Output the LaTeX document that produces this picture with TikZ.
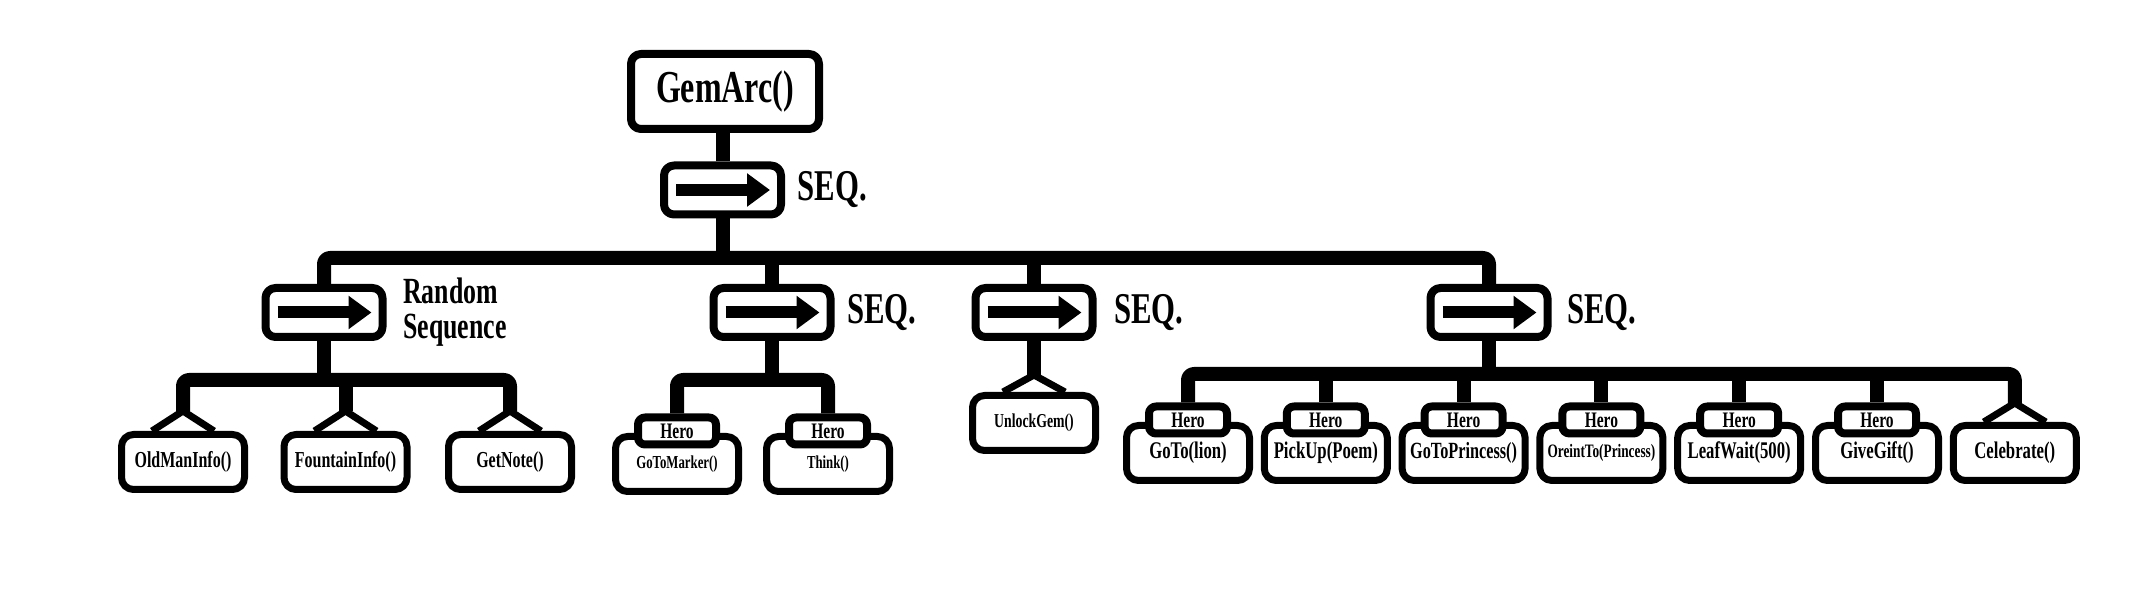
\documentclass[tikz,border=0pt]{standalone}
\usepackage{fontspec}
\newfontfamily\gemfont[FakeStretch=0.7]{Liberation Serif}
\usepackage{tikz}
\usetikzlibrary{arrows.meta}

\begin{document}
\begin{tikzpicture}[line join=round]
	\tikzstyle{root_style}=[rectangle, draw, line width=0.08cm, rounded corners=0.1cm, minimum width=1.88cm, minimum height=0.75cm, font=\gemfont\bfseries\fontsize{13}{14}\selectfont]
	\tikzstyle{seq_style}=[rectangle, draw, line width=0.08cm, rounded corners=0.1cm, minimum width=1.17cm, minimum height=0.49cm, inner sep=0pt,
		path picture={\draw[line width=0.12cm, sharp corners, -{Triangle[length=0.23cm, width=0.32cm]}] ([xshift=-0.465cm]path picture bounding box.center) -- ([xshift=0.475cm]path picture bounding box.center);}]
	\tikzstyle{leaf_style}=[rectangle, draw, fill=white, line width=0.07cm, rounded corners=0.12cm, minimum width=1.23cm, minimum height=0.55cm, inner sep=0pt]
	\tikzstyle{hero_style}=[rectangle, draw, fill=white, line width=0.08cm, rounded corners=0.07cm, minimum width=0.78cm, minimum height=0.27cm, inner sep=0pt, font=\gemfont\bfseries\fontsize{6.3}{7}\selectfont]
	\tikzstyle{label_style}=[right, inner sep=0.12cm, font=\gemfont\bfseries\fontsize{12.5}{13}\selectfont]
	\tikzstyle{link_style}=[line width=0.14cm, rounded corners=0.06cm]
	\tikzstyle{cond_style}=[line width=0.07cm]

	\useasboundingbox (0,0) rectangle (21.49,-5.92);

	% root
	\node at (7.25, -0.915) [root_style] (gemarc) {GemArc()};
	\node at (7.225, -1.90) [seq_style] (seq_root) {};
	\node at (seq_root.east) [label_style] {SEQ.};

	% sequences
	\node at (3.24, -3.125) [seq_style] (seq_rand) {};
	\node at (seq_rand.east) [label_style, align=left, inner sep=0.16cm, font=\gemfont\bfseries\fontsize{10.5}{10}\selectfont] {Random\\Sequence};
	\node at (7.72, -3.125) [seq_style] (seq_two) {};
	\node at (seq_two.east) [label_style] {SEQ.};
	\node at (10.34, -3.125) [seq_style] (seq_three) {};
	\node at (seq_three.east) [label_style, inner sep=0.17cm] {SEQ.};
	\node at (14.89, -3.125) [seq_style] (seq_four) {};
	\node at (seq_four.east) [label_style, inner sep=0.15cm] {SEQ.};

	% random sequence leaves
	\foreach \i/\x/\txt in {1/1.83/OldManInfo(), 2/3.455/FountainInfo(), 3/5.10/GetNote()} {
		\node at (\x, -4.62) [leaf_style, font=\gemfont\bfseries\fontsize{6.5}{8}\selectfont] (leaf_r_\i) {\txt};
		\coordinate (top_r_\i) at ([yshift=0.2cm]leaf_r_\i.north);
		\draw[cond_style] ([xshift=-0.31cm]leaf_r_\i.north) -- (top_r_\i) -- ([xshift=0.31cm]leaf_r_\i.north);
	}

	% second sequence leaves
	\foreach \i/\x/\txt in {1/6.77/GoToMarker(), 2/8.28/Think()} {
		\node at (\x, -4.64) [leaf_style, font=\gemfont\bfseries\fontsize{5.2}{7}\selectfont] (leaf_t_\i) {\txt};
		\node at (\x, -4.31) [hero_style] (hero_t_\i) {Hero};
	}

	% unlock leaf
	\node at (10.34, -4.23) [leaf_style, font=\gemfont\bfseries\fontsize{5.6}{7}\selectfont] (leaf_u) {UnlockGem()};
	\coordinate (top_u) at ([yshift=0.17cm]leaf_u.north);
	\draw[cond_style] ([xshift=-0.31cm]leaf_u.north) -- (top_u) -- ([xshift=0.31cm]leaf_u.north);

	% fourth sequence leaves
	\foreach \i/\s/\txt in {1/6.8/GoTo(lion), 2/6.8/PickUp(Poem), 3/6.6/GoToPrincess(), 4/5.4/OreintTo(Princess), 5/6.8/LeafWait(500), 6/6.8/GiveGift()} {
		\node at ({11.88+1.378*(\i-1)}, -4.53) [leaf_style, font=\gemfont\bfseries\fontsize{\s}{8}\selectfont] (leaf_f_\i) {\txt};
		\node at ({11.88+1.378*(\i-1)}, -4.20) [hero_style] (hero_f_\i) {Hero};
	}
	\node at (20.148, -4.53) [leaf_style, font=\gemfont\bfseries\fontsize{6.8}{8}\selectfont] (leaf_f_7) {Celebrate()};
	\coordinate (top_f_7) at ([yshift=0.19cm]leaf_f_7.north);
	\draw[cond_style] ([xshift=-0.31cm]leaf_f_7.north) -- (top_f_7) -- ([xshift=0.31cm]leaf_f_7.north);

	% connect: root
	\coordinate (bar_main) at (0, -2.58);
	\draw[link_style] (seq_root.north) -- (seq_root.north |- gemarc.south);
	\draw[link_style] (seq_root.south) -- (seq_root.south |- bar_main);
	\draw[link_style] (seq_rand.north) -- (seq_rand.north |- bar_main) -- (seq_four.north |- bar_main) -- (seq_four.north);
	\foreach \n in {two, three}
		\draw[link_style] (seq_\n.north |- bar_main) -- (seq_\n.north);

	% connect: random sequence
	\coordinate (bar_r) at (0, -3.80);
	\draw[link_style] (seq_rand.south) -- (seq_rand.south |- bar_r);
	\draw[link_style] (top_r_1) -- (top_r_1 |- bar_r) -- (top_r_3 |- bar_r) -- (top_r_3);
	\draw[link_style] (top_r_2 |- bar_r) -- (top_r_2);

	% connect: second sequence
	\coordinate (bar_t) at (0, -3.80);
	\draw[link_style] (seq_two.south) -- (seq_two.south |- bar_t);
	\draw[link_style] (hero_t_1.north) -- (hero_t_1.north |- bar_t) -- (hero_t_2.north |- bar_t) -- (hero_t_2.north);

	% connect: unlock
	\draw[link_style] (seq_three.south) -- (top_u);

	% connect: fourth sequence
	\coordinate (bar_f) at (0, -3.74);
	\draw[link_style] (seq_four.south) -- (seq_four.south |- bar_f);
	\draw[link_style] (hero_f_1.north) -- (hero_f_1.north |- bar_f) -- (top_f_7 |- bar_f) -- (top_f_7);
	\foreach \i in {2,...,6}
		\draw[link_style] (hero_f_\i.north |- bar_f) -- (hero_f_\i.north);

\end{tikzpicture}
\end{document}
